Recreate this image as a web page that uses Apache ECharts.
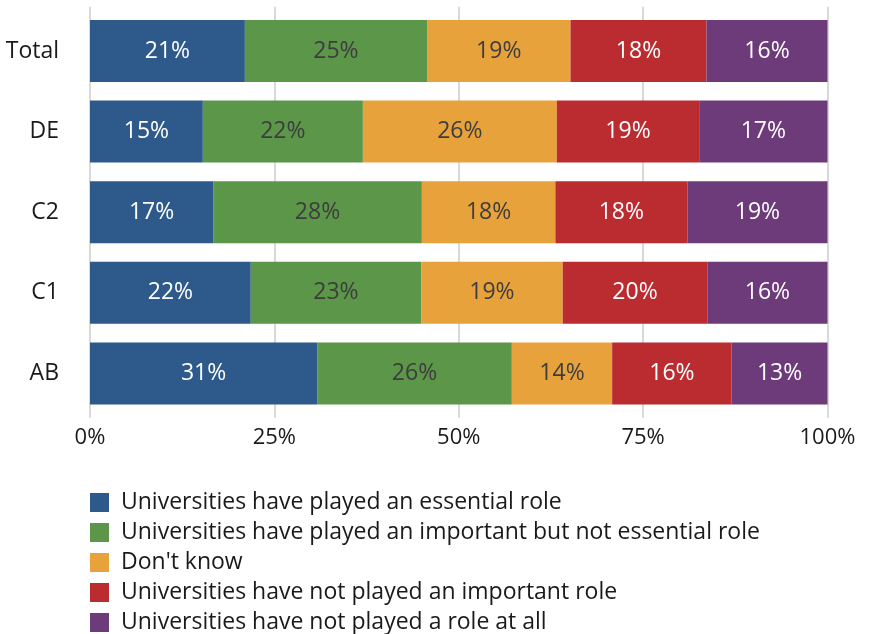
<!DOCTYPE html>
<html>
<head>
<meta charset="utf-8">
<script src="https://cdn.jsdelivr.net/npm/echarts@6/dist/echarts.min.js"></script>
<style>
  html, body { margin: 0; padding: 0; background: #ffffff; }
  #chart { width: 870px; height: 634px; }
</style>
</head>
<body>
<div id="chart"></div>
<script>
// Segments by group (shares of respondents, in %)
const groups = ['AB', 'C1', 'C2', 'DE', 'Total'];
const seriesNames = [
  'Universities have played an essential role',
  'Universities have played an important but not essential role',
  "Don't know",
  'Universities have not played an important role',
  'Universities have not played a role at all'
];
const essential    = [30.8, 21.8, 16.7, 15.3, 21.0];
const important    = [26.4, 23.1, 28.3, 21.7, 24.7];
const dontKnow     = [13.6, 19.2, 18.1, 26.3, 19.45];
const notImportant = [16.2, 19.6, 17.9, 19.3, 18.45];
const noRole       = [13.0, 16.3, 19.0, 17.4, 16.4];
const xTicks = [0, 25, 50, 75, 100];

const values = [essential, important, dontKnow, notImportant, noRole];
const colors = ['#2E5A8B', '#5C9648', '#E8A23C', '#BB2C30', '#6D3A7A'];
const labelColors = ['#ffffff', '#3d3d3d', '#3d3d3d', '#ffffff', '#ffffff'];
const FONT = '"Open Sans", sans-serif';

const chart = echarts.init(document.getElementById('chart'));

const series = seriesNames.map((name, i) => ({
  name: name,
  type: 'bar',
  stack: 'all',
  barWidth: 62,
  data: values[i],
  itemStyle: { color: colors[i] },
  label: {
    show: true,
    position: 'inside',
    color: labelColors[i],
    fontFamily: FONT,
    fontSize: 23,
    formatter: p => Math.round(p.value) + '%'
  },
  emphasis: { disabled: true }
}));

const gridLine = { color: '#D9D9D9', width: 2 };

chart.setOption({
  animation: false,
  grid: { left: 90, right: 42.5, top: 10.7, height: 403, containLabel: false },
  xAxis: [
    {
      type: 'value',
      min: 0,
      max: 100,
      interval: 25,
      position: 'bottom',
      axisLine: { show: false },
      axisTick: { show: true, length: 4, lineStyle: gridLine },
      splitLine: { show: true, lineStyle: gridLine },
      axisLabel: {
        color: '#1a1a1a',
        fontFamily: FONT,
        fontSize: 22,
        margin: 13,
        formatter: v => xTicks.includes(v) ? v + '%' : ''
      }
    },
    {
      type: 'value',
      min: 0,
      max: 100,
      interval: 25,
      position: 'top',
      axisLine: { show: false },
      axisTick: { show: true, length: 4, lineStyle: gridLine },
      splitLine: { show: false },
      axisLabel: { show: false }
    }
  ],
  yAxis: {
    type: 'category',
    data: groups,
    axisLine: { show: false },
    axisTick: { show: false },
    axisLabel: {
      color: '#1a1a1a',
      fontFamily: FONT,
      fontSize: 23,
      margin: 31
    }
  },
  legend: {
    orient: 'vertical',
    left: 85,
    top: 486,
    height: 180,
    icon: 'rect',
    itemWidth: 19,
    itemHeight: 19,
    itemGap: 7,
    selectedMode: false,
    data: seriesNames,
    textStyle: {
      color: '#1a1a1a',
      fontFamily: FONT,
      fontSize: 23,
      lineHeight: 19,
      padding: [0, 0, 0, 7]
    }
  },
  series: series
});
</script>
</body>
</html>
